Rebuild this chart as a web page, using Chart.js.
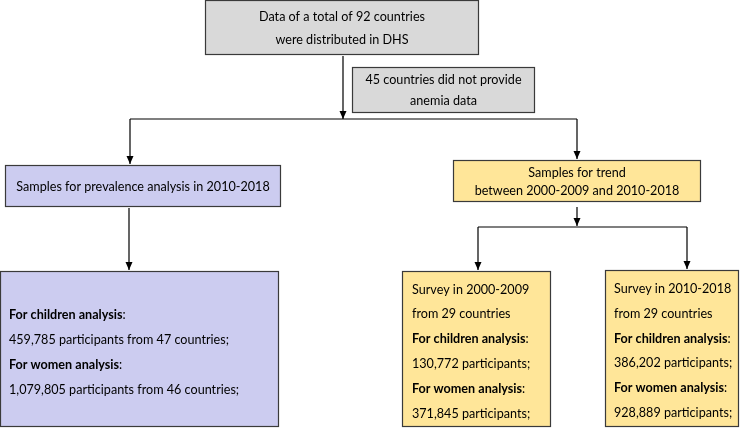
<!DOCTYPE html>
<html>
<head>
<meta charset="utf-8">
<script src="https://cdn.jsdelivr.net/npm/chart.js@4.4.0/dist/chart.umd.min.js"></script>
<style>
  html, body { margin: 0; padding: 0; background: #ffffff; }
  canvas { display: block; }
</style>
</head>
<body>
<canvas id="flow" width="740" height="428"></canvas>
<script>
// Box texts: each line is a list of [text, bold] runs
const topLines = [[['Data of a total of 92 countries', false]], [['were distributed in DHS', false]]];
const excludedLines = [[['45 countries did not provide', false]], [['anemia data', false]]];
const prevalenceLines = [[['Samples for prevalence analysis in 2010-2018', false]]];
const prevalenceDetailLines = [
    [['For children analysis', true], [':', false]],
    [['459,785 participants from 47 countries;', false]],
    [['For women analysis', true], [':', false]],
    [['1,079,805 participants from 46 countries;', false]]
];
const trendLines = [[['Samples for trend', false]], [['between 2000-2009 and 2010-2018', false]]];
const earlyLines = [
    [['Survey in 2000-2009', false]],
    [['from 29 countries', false]],
    [['For children analysis', true], [':', false]],
    [['130,772 participants;', false]],
    [['For women analysis', true], [':', false]],
    [['371,845 participants;', false]]
];
const lateLines = [
    [['Survey in 2010-2018', false]],
    [['from 29 countries', false]],
    [['For children analysis', true], [':', false]],
    [['386,202 participants;', false]],
    [['For women analysis', true], [':', false]],
    [['928,889 participants;', false]]
];

const GRAY = '#d9d9d9';
const PURPLE = '#ccccf0';
const YELLOW = '#ffe699';
const INK = '#000000';
const EDGE = '#3a3a3a';
const FONT = 'Lato, "Open Sans", sans-serif';
const FONT_SIZE = 14;
const SQUEEZE = 0.9; // the original face is narrower than Lato

// Layout of the boxes in page coordinates (x grows right, y grows down)
const boxes = [
    { x0: 205, y0: 0, x1: 479, y1: 55, fill: GRAY, lines: topLines, gap: 23, align: 'center' },
    { x0: 352, y0: 67, x1: 535, y1: 113, fill: GRAY, lines: excludedLines, gap: 21, align: 'center' },
    { x0: 5, y0: 165, x1: 281, y1: 207, fill: PURPLE, lines: prevalenceLines, gap: 20, align: 'center' },
    { x0: 0, y0: 271, x1: 279, y1: 427, fill: PURPLE, lines: prevalenceDetailLines, gap: 25, align: 'left', pad: 9, dy: 3 },
    { x0: 453, y0: 160, x1: 701, y1: 202, fill: YELLOW, lines: trendLines, gap: 18, align: 'center' },
    { x0: 402, y0: 271, x1: 551, y1: 427, fill: YELLOW, lines: earlyLines, gap: 24.8, align: 'left', pad: 10, dy: 2 },
    { x0: 605, y0: 270, x1: 739, y1: 427, fill: YELLOW, lines: lateLines, gap: 24.8, align: 'left', pad: 9, dy: 2 }
];

// Connector polylines; arrow: true puts a head on the last point
const connectors = [
    { pts: [[343, 56], [343, 119]], arrow: true },
    { pts: [[130, 119], [577, 119]], arrow: false },
    { pts: [[130, 119], [130, 164]], arrow: true },
    { pts: [[577, 119], [577, 159]], arrow: true },
    { pts: [[129, 208], [129, 270]], arrow: true },
    { pts: [[577, 207], [577, 226]], arrow: true },
    { pts: [[478, 227], [687, 227]], arrow: false },
    { pts: [[478, 227], [478, 270]], arrow: true },
    { pts: [[687, 227], [687, 269]], arrow: true }
];

function setFont(ctx, bold) {
    ctx.font = (bold ? 'bold ' : '') + FONT_SIZE + 'px ' + FONT;
}

function runWidth(ctx, runs) {
    let w = 0;
    runs.forEach(r => {
        setFont(ctx, r[1]);
        w += ctx.measureText(r[0]).width * SQUEEZE;
    });
    return w;
}

const flowPlugin = {
    id: 'flowBoxes',
    beforeDatasetsDraw(chart) {
        const ctx = chart.ctx;
        const xs = chart.scales.x;
        const ys = chart.scales.y;
        ctx.save();
        boxes.forEach(b => {
            const left = xs.getPixelForValue(b.x0);
            const right = xs.getPixelForValue(b.x1);
            const top = ys.getPixelForValue(b.y0);
            const bottom = ys.getPixelForValue(b.y1);
            ctx.fillStyle = b.fill;
            ctx.fillRect(left, top, right - left, bottom - top);
            ctx.strokeStyle = EDGE;
            ctx.lineWidth = 1.2;
            ctx.strokeRect(left + 0.5, top + 0.5, right - left - 1, bottom - top - 1);

            const n = b.lines.length;
            const cy = (top + bottom) / 2 + (b.dy || 0);
            ctx.fillStyle = INK;
            ctx.textBaseline = 'middle';
            ctx.textAlign = 'left';
            b.lines.forEach((runs, i) => {
                const y = cy + (i - (n - 1) / 2) * b.gap;
                let x = b.align === 'center'
                    ? (left + right) / 2 - runWidth(ctx, runs) / 2
                    : left + b.pad;
                runs.forEach(r => {
                    setFont(ctx, r[1]);
                    ctx.save();
                    ctx.translate(x, y);
                    ctx.scale(SQUEEZE, 1);
                    ctx.fillText(r[0], 0, 0);
                    ctx.restore();
                    x += ctx.measureText(r[0]).width * SQUEEZE;
                });
            });
        });
        ctx.restore();
    },
    afterDatasetsDraw(chart) {
        const ctx = chart.ctx;
        const xs = chart.scales.x;
        const ys = chart.scales.y;
        ctx.save();
        ctx.fillStyle = INK;
        connectors.forEach(c => {
            if (!c.arrow) return;
            const p = c.pts[c.pts.length - 1];
            const q = c.pts[c.pts.length - 2];
            const px = xs.getPixelForValue(p[0]);
            const py = ys.getPixelForValue(p[1]);
            const ang = Math.atan2(py - ys.getPixelForValue(q[1]), px - xs.getPixelForValue(q[0]));
            const len = 8, half = 3.5;
            ctx.beginPath();
            ctx.moveTo(px, py);
            ctx.lineTo(px - len * Math.cos(ang) + half * Math.sin(ang), py - len * Math.sin(ang) - half * Math.cos(ang));
            ctx.lineTo(px - len * Math.cos(ang) - half * Math.sin(ang), py - len * Math.sin(ang) + half * Math.cos(ang));
            ctx.closePath();
            ctx.fill();
        });
        ctx.restore();
    }
};

new Chart(document.getElementById('flow'), {
    type: 'scatter',
    data: {
        datasets: connectors.map(c => ({
            data: c.pts.map(p => ({ x: p[0], y: p[1] })),
            showLine: true,
            borderColor: INK,
            borderWidth: 1.2,
            pointRadius: 0,
            fill: false
        }))
    },
    options: {
        responsive: false,
        animation: false,
        layout: { padding: 0 },
        plugins: {
            legend: { display: false },
            tooltip: { enabled: false }
        },
        scales: {
            x: { type: 'linear', min: 0, max: 740, display: false },
            y: { type: 'linear', min: 0, max: 428, reverse: true, display: false }
        }
    },
    plugins: [flowPlugin]
});
</script>
</body>
</html>
